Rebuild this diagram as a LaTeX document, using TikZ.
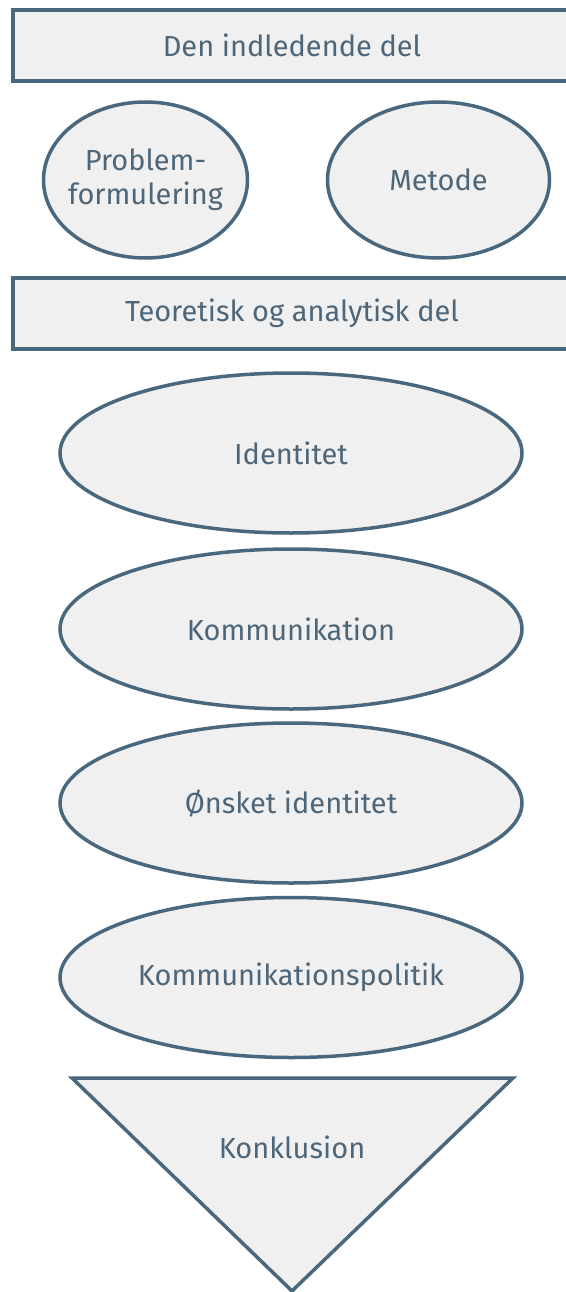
\documentclass[tikz,border=0pt]{standalone}
\usepackage{fontspec}
\setmainfont{Fira Sans}
\usetikzlibrary{shapes.geometric}
\definecolor{edge}{HTML}{4A687D}
\definecolor{ink}{HTML}{4D6679}
\definecolor{panel}{HTML}{F0F0F0}
\begin{document}
\begin{tikzpicture}[x=1pt,y=-1pt,
  labelfont/.style={font=\fontsize{29}{34}\selectfont},
  shape base/.style={draw=edge, line width=3.5pt, fill=panel, text=ink, labelfont},
  bar/.style={shape base, rectangle, minimum height=71pt, minimum width=558pt, inner sep=0pt},
  oval/.style={shape base, ellipse, inner sep=0pt, align=center}]
\useasboundingbox (0,0) rectangle (565,1292);
\fill[white] (0,0) rectangle (565,1292);

\node[bar] (intro) at (292,45.5) {Den indledende del};
% the two-line label is placed over a fixed-size ellipse
\node[oval, minimum width=204pt, minimum height=156pt,
  label={[text=ink, labelfont, align=center]center:Problem-\\formulering}] (problem) at (145.5,180) {};
\node[oval, minimum width=222pt, minimum height=156pt] (method) at (438.5,180) {Metode};
\node[bar] (theory) at (292,313.5) {Teoretisk og analytisk del};

\node[oval, minimum width=462pt, minimum height=160pt] (identity) at (291,453) {Identitet};
\node[oval, minimum width=462pt, minimum height=160pt] (comm) at (291,629) {Kommunikation};
\node[oval, minimum width=462pt, minimum height=160pt] (wished) at (291,803) {Ønsket identitet};
\node[oval, minimum width=462pt, minimum height=160pt] (policy) at (291,977.5) {Kommunikationspolitik};

\coordinate (tl) at (72,1078);
\coordinate (tr) at (513,1078);
\coordinate (tip) at (292,1291);
\draw[draw=edge, line width=3.5pt, fill=panel, line join=miter] (tl) -- (tr) -- (tip) -- cycle;
\node[text=ink, labelfont] (concl) at (292,1147) {Konklusion};
\end{tikzpicture}
\end{document}
